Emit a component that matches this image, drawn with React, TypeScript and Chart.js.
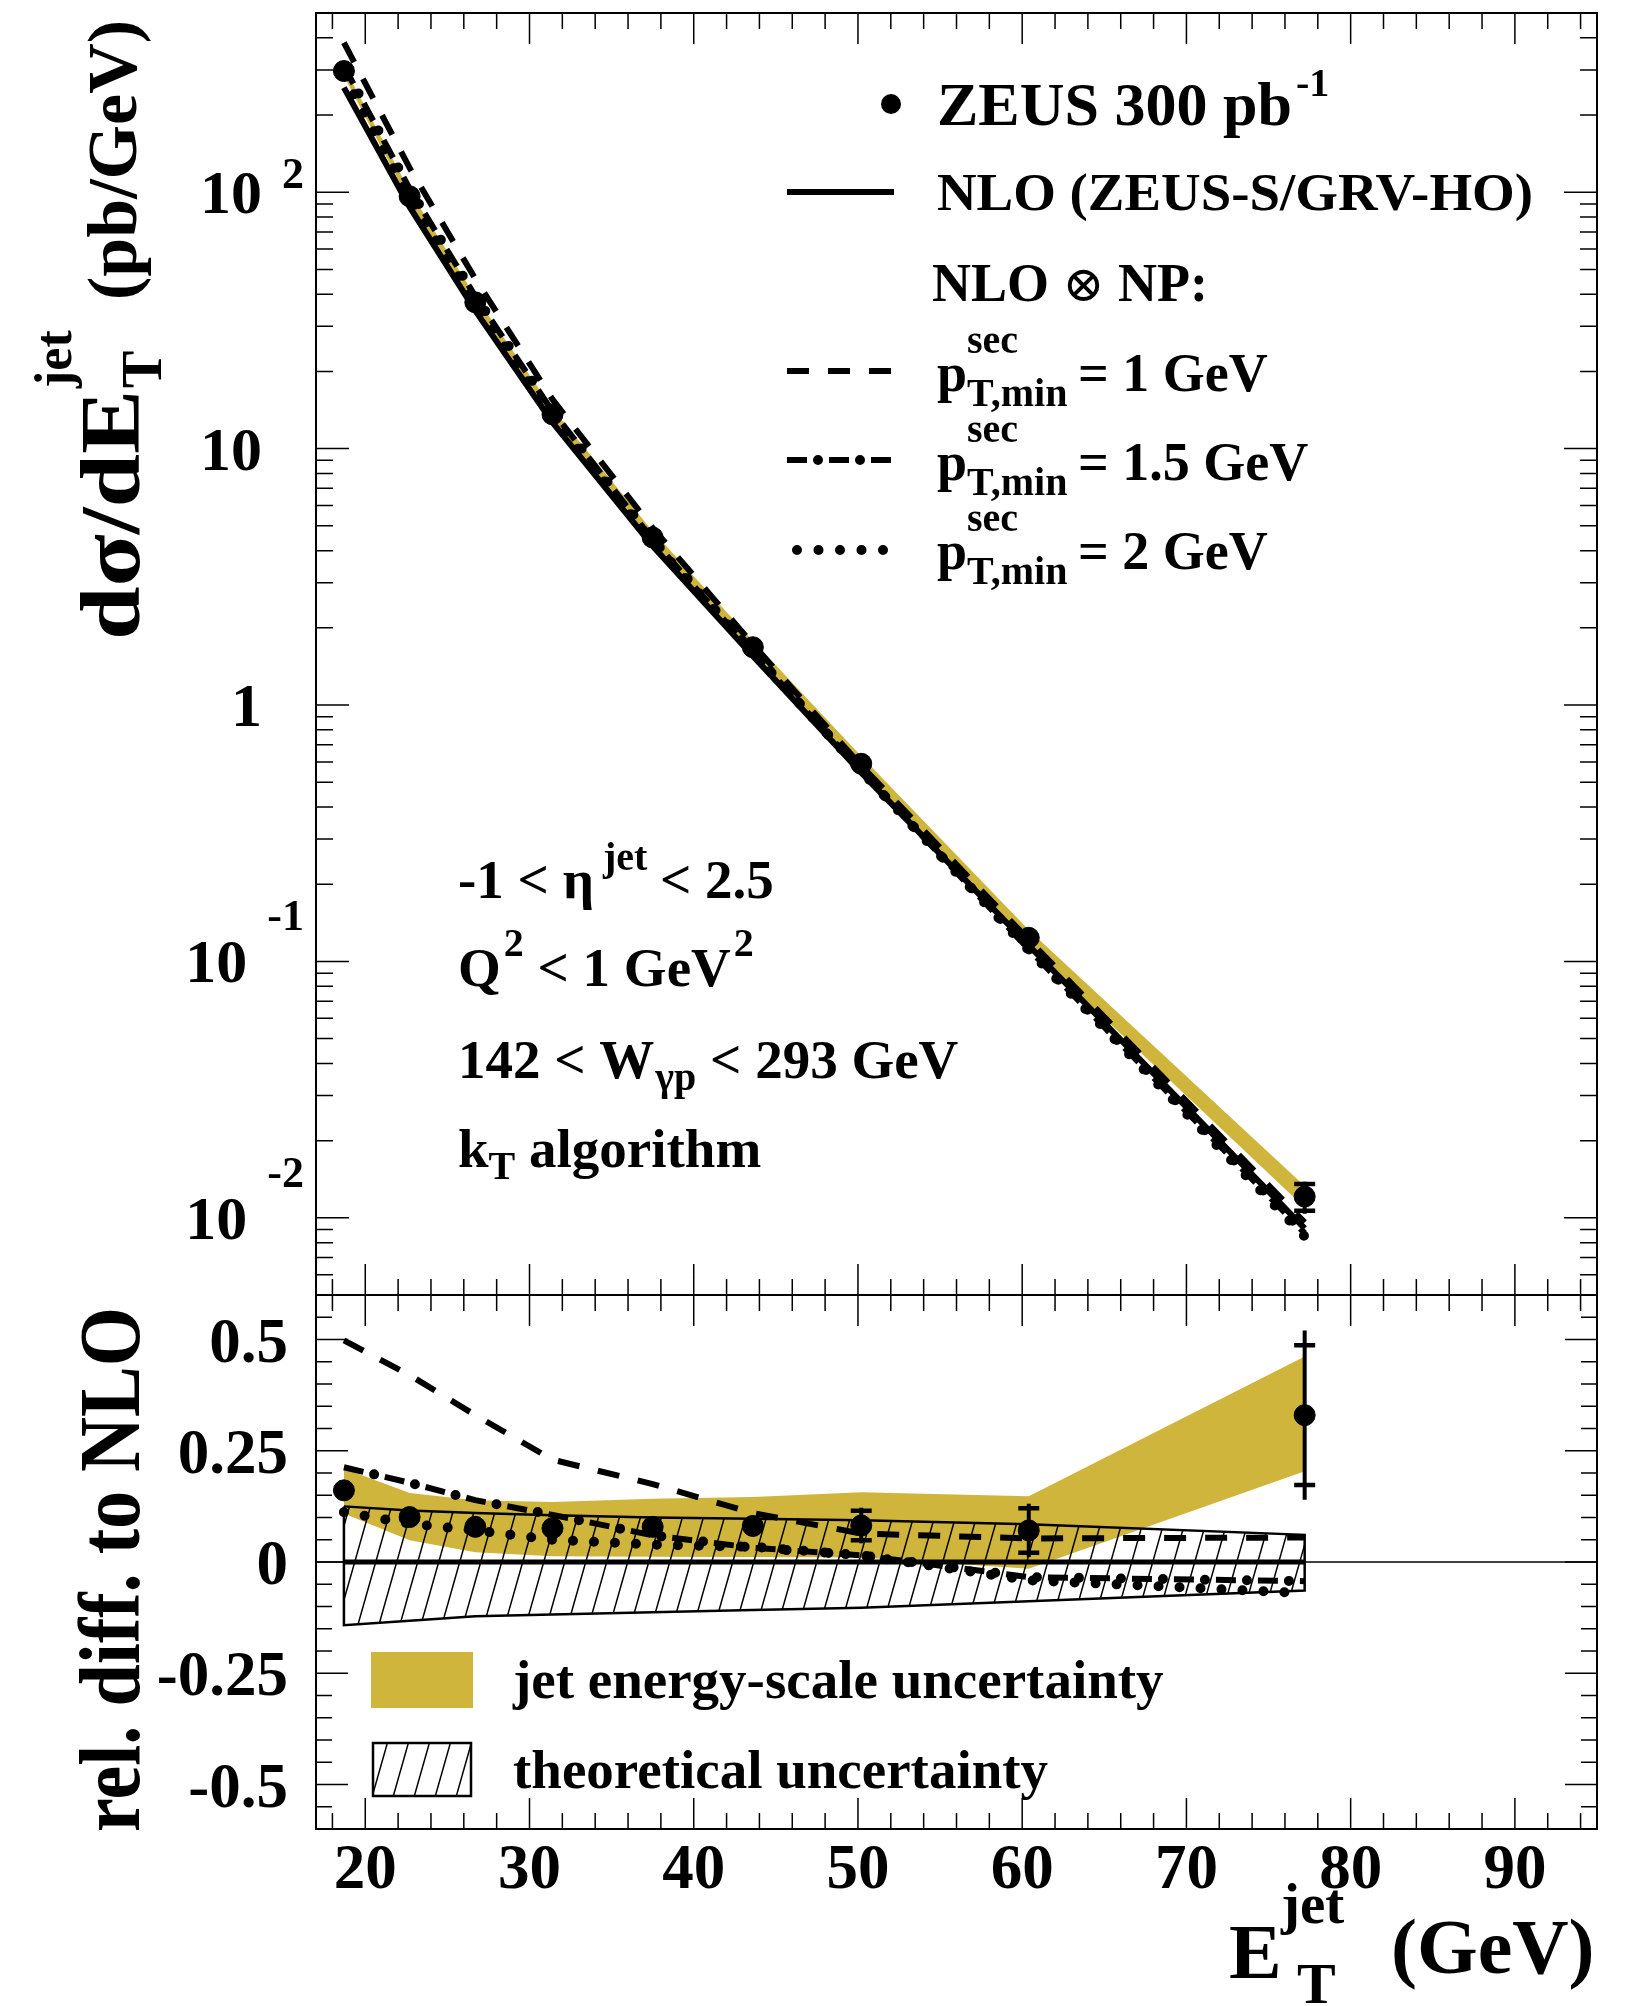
import React, { useEffect, useRef } from 'react';
import { Chart, registerables } from 'chart.js';

Chart.register(...registerables);

const SERIF = "'Liberation Serif', 'Times New Roman', 'DejaVu Serif', serif";
const GOLD = '#cfb53b';

// ---------------- data ----------------
const etJet = [18.7, 22.7, 26.7, 31.4, 37.5, 43.6, 50.2, 60.4, 77.2];

// upper panel: d sigma / dE_T (pb/GeV)
const zeusXsec = [297, 96.4, 37.2, 13.6, 4.5, 1.68, 0.59, 0.1236, 0.0121];
const zeusXsecStat = [1.0, 0.4, 0.2, 0.1, 0.04, 0.023, 0.018, 0.0058, 0.00145];
const zeusXsecTot = [3.5, 1.2, 0.5, 0.19, 0.07, 0.034, 0.022, 0.0069, 0.00173];
const nloXsec = [255.8, 87.6, 34.5, 12.64, 4.17, 1.554, 0.545, 0.1154, 0.0091];
const np1Xsec = [383.2, 124.4, 45.9, 15.55, 4.9, 1.725, 0.58, 0.1215, 0.0096];
const np15Xsec = [310.3, 103.2, 39.3, 13.98, 4.42, 1.604, 0.553, 0.1115, 0.00871];
const np2Xsec = [284.4, 95.1, 36.95, 13.27, 4.33, 1.607, 0.553, 0.1107, 0.00846];
const jesUpXsec = [309.5, 101.2, 39.3, 14.35, 4.76, 1.781, 0.6306, 0.1325, 0.0133];
const jesDownXsec = [283.7, 91.9, 35.26, 12.8, 4.22, 1.571, 0.5505, 0.1137, 0.01096];

// lower panel: relative difference to NLO
const zeusRel = [0.161, 0.101, 0.079, 0.076, 0.079, 0.081, 0.082, 0.071, 0.33];
const zeusRelStat = [0.004, 0.005, 0.006, 0.008, 0.01, 0.015, 0.033, 0.05, 0.157];
const zeusRelTot = [0.012, 0.012, 0.013, 0.014, 0.016, 0.02, 0.04, 0.06, 0.19];
const nloRel = [0, 0, 0, 0, 0, 0, 0, 0, 0];
const np1Rel = [0.498, 0.42, 0.33, 0.23, 0.175, 0.11, 0.064, 0.053, 0.055];
const np15Rel = [0.213, 0.178, 0.139, 0.106, 0.06, 0.032, 0.015, -0.034, -0.043];
const np2Rel = [0.112, 0.086, 0.071, 0.05, 0.039, 0.034, 0.015, -0.041, -0.07];
const jesUpRel = [0.21, 0.155, 0.139, 0.135, 0.142, 0.146, 0.157, 0.148, 0.462];
const jesDownRel = [0.109, 0.049, 0.022, 0.013, 0.012, 0.011, 0.01, -0.015, 0.204];
const theoUpRel = [0.125, 0.116, 0.11, 0.105, 0.1, 0.097, 0.094, 0.085, 0.061];
const theoDownRel = [-0.142, -0.132, -0.122, -0.118, -0.113, -0.108, -0.103, -0.088, -0.064];

// axes
const xRange = [17, 95];
const xsecRange = [0.005, 500];
const relRange = [-0.6, 0.6];
const xTickValues = [20, 30, 40, 50, 60, 70, 80, 90];
const xTickLabels = ['20', '30', '40', '50', '60', '70', '80', '90'];
const xsecTickValues = [100, 10, 1, 0.1, 0.01];
const xsecTickBases = ['10', '10', '1', '10', '10'];
const xsecTickExps = ['2', '', '', '-1', '-2'];
const relTickValues = [0.5, 0.25, 0, -0.25, -0.5];
const relTickLabels = ['0.5', '0.25', '0', '-0.25', '-0.5'];

// ---------------- layout ----------------
const W = 1640;
const H = 2006;
const F = { left: 316, right: 1597, top: 13, mid: 1295, bottom: 1829 };

type Pt = { x: number; y: number };
const pts = (xs: number[], ys: number[]): Pt[] => xs.map((x, i) => ({ x, y: ys[i] }));

type Seg = {
  t: string;
  size: number;
  dy?: number;
  dx?: number;
  at?: number;
  w?: number;
  stack?: boolean;
  weight?: string;
};

function rich(ctx: CanvasRenderingContext2D, segs: Seg[], x: number, y: number, rot = 0) {
  ctx.save();
  ctx.translate(x, y);
  if (rot) ctx.rotate(rot);
  ctx.textAlign = 'left';
  ctx.textBaseline = 'alphabetic';
  ctx.fillStyle = '#000';
  let cursor = 0;
  let prevStart = 0;
  for (const s of segs) {
    ctx.font = `${s.weight ?? 'bold'} ${s.size}px ${SERIF}`;
    const nat = ctx.measureText(s.t).width;
    const sx = s.w ? s.w / nat : 1;
    const start = s.at !== undefined ? s.at : s.stack ? prevStart : cursor + (s.dx ?? 0);
    ctx.save();
    ctx.translate(start, s.dy ?? 0);
    ctx.scale(sx, 1);
    ctx.fillText(s.t, 0, 0);
    ctx.restore();
    prevStart = start;
    cursor = Math.max(cursor, start + nat * sx);
  }
  ctx.restore();
}

function line(xs: number[], ys: number[], extra: Record<string, unknown>) {
  return {
    data: pts(xs, ys),
    showLine: true,
    pointRadius: 0,
    borderColor: '#000',
    backgroundColor: 'rgba(0,0,0,0)',
    fill: false,
    ...extra,
  };
}

function bandEdge(xs: number[], ys: number[], extra: Record<string, unknown>) {
  return line(xs, ys, { borderColor: 'rgba(0,0,0,0)', borderWidth: 1, ...extra });
}

function markers(xs: number[], ys: number[]) {
  return {
    data: pts(xs, ys),
    showLine: false,
    pointRadius: 10.5,
    pointBackgroundColor: '#000',
    pointBorderColor: '#000',
    pointBorderWidth: 1,
    order: 0,
  };
}

function drawErrors(chart: any, vals: number[], stat: number[], tot: number[]) {
  const { ctx } = chart;
  const xs = chart.scales.x;
  const ys = chart.scales.y;
  ctx.save();
  ctx.strokeStyle = '#000';
  for (let i = 0; i < etJet.length; i++) {
    const px = xs.getPixelForValue(etJet[i]);
    const pc = ys.getPixelForValue(vals[i]);
    const pTotHi = ys.getPixelForValue(vals[i] + tot[i]);
    const pTotLo = ys.getPixelForValue(vals[i] - tot[i]);
    const pStHi = ys.getPixelForValue(vals[i] + stat[i]);
    const pStLo = ys.getPixelForValue(vals[i] - stat[i]);
    if (Math.abs(pc - pTotHi) > 10.5 || Math.abs(pTotLo - pc) > 10.5) {
      ctx.lineWidth = 4;
      ctx.beginPath();
      ctx.moveTo(px, pTotHi);
      ctx.lineTo(px, pTotLo);
      ctx.stroke();
    }
    if (Math.abs(pc - pStHi) > 10.5) {
      ctx.lineWidth = 4.5;
      ctx.beginPath();
      ctx.moveTo(px - 10.5, pStHi);
      ctx.lineTo(px + 10.5, pStHi);
      ctx.moveTo(px - 10.5, pStLo);
      ctx.lineTo(px + 10.5, pStLo);
      ctx.stroke();
    }
  }
  ctx.restore();
}

function drawXTicks(ctx: CanvasRenderingContext2D, xs: any, top: number, bottom: number) {
  for (let v = 18; v <= 94; v += 2) {
    const px = xs.getPixelForValue(v);
    const len = v % 10 === 0 ? 31 : 16;
    ctx.moveTo(px, top);
    ctx.lineTo(px, top + len);
    ctx.moveTo(px, bottom);
    ctx.lineTo(px, bottom - len);
  }
}

function makeHatch(ctx: CanvasRenderingContext2D): CanvasPattern | string {
  const tw = 21;
  const th = 74;
  const tile = document.createElement('canvas');
  tile.width = tw;
  tile.height = th;
  const t = tile.getContext('2d');
  if (!t) return 'rgba(0,0,0,0.15)';
  t.strokeStyle = '#000';
  t.lineWidth = 1.5;
  t.beginPath();
  for (const off of [-tw, 0, tw]) {
    t.moveTo(off, th);
    t.lineTo(off + tw, 0);
  }
  t.stroke();
  return ctx.createPattern(tile, 'repeat') || 'rgba(0,0,0,0.15)';
}

const baseOptions = (padding: any, yScale: any) => ({
  responsive: false,
  animation: false as const,
  devicePixelRatio: 1,
  events: [] as any[],
  layout: { padding },
  plugins: { legend: { display: false }, tooltip: { enabled: false } },
  scales: {
    x: { type: 'linear' as const, min: xRange[0], max: xRange[1], display: false },
    y: yScale,
  },
});

// ---------------- top panel ----------------
function topConfig(): any {
  const decor = {
    id: 'topDecor',
    afterDatasetsDraw(chart: any) {
      drawErrors(chart, zeusXsec, zeusXsecStat, zeusXsecTot);
    },
    afterDraw(chart: any) {
      const { ctx, chartArea: a } = chart;
      const xs = chart.scales.x;
      const ys = chart.scales.y;
      ctx.save();
      ctx.strokeStyle = '#000';
      ctx.lineWidth = 1.5;
      ctx.beginPath();
      drawXTicks(ctx, xs, a.top, a.bottom);
      for (let e = -3; e <= 2; e++) {
        for (let m = 1; m <= 9; m++) {
          const v = m * Math.pow(10, e);
          if (v < xsecRange[0] * 0.999 || v > xsecRange[1] * 1.001) continue;
          const py = ys.getPixelForValue(v);
          const len = m === 1 ? 33 : 17;
          ctx.moveTo(a.left, py);
          ctx.lineTo(a.left + len, py);
          ctx.moveTo(a.right, py);
          ctx.lineTo(a.right - len, py);
        }
      }
      ctx.stroke();
      ctx.lineWidth = 2;
      ctx.strokeRect(a.left, a.top, a.right - a.left, a.bottom - a.top);

      // y tick labels
      ctx.fillStyle = '#000';
      ctx.textBaseline = 'alphabetic';
      for (let i = 0; i < xsecTickValues.length; i++) {
        const py = ys.getPixelForValue(xsecTickValues[i]);
        const exp = xsecTickExps[i];
        if (exp) {
          ctx.font = `bold 44px ${SERIF}`;
          const ew = ctx.measureText(exp).width;
          ctx.textAlign = 'left';
          ctx.fillText(exp, 304 - ew, py + (exp.startsWith('-') ? -31 : -4));
          ctx.font = `bold 62px ${SERIF}`;
          ctx.textAlign = 'right';
          ctx.fillText(xsecTickBases[i], 304 - ew - 20, py + 21);
        } else {
          ctx.font = `bold 62px ${SERIF}`;
          ctx.textAlign = 'right';
          ctx.fillText(xsecTickBases[i], 262, py + 21);
        }
      }

      // y title
      rich(
        ctx,
        [
          { t: 'dσ/dE', size: 84, w: 250 },
          { t: 'T', size: 56, dy: 22, dx: 2 },
          { t: 'jet', size: 52, dy: -68, stack: true },
          { t: '(pb/GeV)', size: 70, at: 340, dy: -3 },
        ],
        139,
        640,
        -Math.PI / 2
      );

      // legend
      ctx.beginPath();
      ctx.arc(891, 104, 10, 0, Math.PI * 2);
      ctx.fill();
      rich(ctx, [{ t: 'ZEUS 300 pb', size: 62 }, { t: '-1', size: 40, dy: -29, dx: 4 }], 937, 125);
      const sample = (y: number, x0: number, x1: number, w: number, dash: number[], cap: CanvasLineCap, off = 0) => {
        ctx.save();
        ctx.lineWidth = w;
        ctx.setLineDash(dash);
        ctx.lineDashOffset = off;
        ctx.lineCap = cap;
        ctx.beginPath();
        ctx.moveTo(x0, y);
        ctx.lineTo(x1, y);
        ctx.stroke();
        ctx.restore();
      };
      sample(192, 787, 894, 6, [], 'butt');
      rich(ctx, [{ t: 'NLO (ZEUS-S/GRV-HO)', size: 53, w: 596 }], 937, 210);
      rich(
        ctx,
        [
          { t: 'NLO ', size: 54 },
          { t: '⊗', size: 50, weight: 'normal' },
          { t: ' NP:', size: 54 },
        ],
        932,
        301
      );
      sample(371, 787, 894, 6, [22, 19], 'butt');
      sample(460, 787, 894, 6, [20, 22], 'butt');
      sample(460, 787, 894, 10, [0, 42], 'round', 11);
      sample(550, 797, 884, 10, [0, 21.5], 'round');
      const rows = ['= 1 GeV', '= 1.5 GeV', '= 2 GeV'];
      rows.forEach((r, i) => {
        rich(
          ctx,
          [
            { t: 'p', size: 54 },
            { t: 'T,min', size: 40, dy: 15 },
            { t: 'sec', size: 40, dy: -38, stack: true },
            { t: r, size: 54, at: 141 },
          ],
          937,
          391 + 89 * i
        );
      });

      // kinematic text
      rich(ctx, [{ t: '-1 < η', size: 55 }, { t: 'jet', size: 40, dy: -28, at: 145 }, { t: '< 2.5', size: 55, at: 202 }], 458, 898);
      rich(ctx, [{ t: 'Q', size: 55 }, { t: '2', size: 40, dy: -30, dx: 3 }, { t: ' < 1 GeV', size: 55 }, { t: '2', size: 40, dy: -30, dx: 3 }], 458, 986);
      rich(ctx, [{ t: '142 < W', size: 55 }, { t: 'γp', size: 40, dy: 12, dx: 1 }, { t: ' < 293 GeV', size: 55 }], 458, 1078);
      rich(ctx, [{ t: 'k', size: 55 }, { t: 'T', size: 40, dy: 12 }, { t: ' algorithm', size: 55 }], 458, 1167);
      ctx.restore();
    },
  };

  return {
    type: 'scatter',
    data: {
      datasets: [
        { ...bandEdge(etJet, jesDownXsec, {}), order: 20 },
        { ...bandEdge(etJet, jesUpXsec, { fill: '-1', backgroundColor: GOLD }), order: 19 },
        line(etJet, nloXsec, { borderWidth: 6, order: 5 }),
        line(etJet, np1Xsec, { borderWidth: 6, borderDash: [22, 19], order: 4 }),
        line(etJet, np15Xsec, { borderWidth: 6, borderDash: [20, 22], order: 3 }),
        line(etJet, np15Xsec, { borderWidth: 10, borderDash: [0, 42], borderDashOffset: 11, borderCapStyle: 'round', order: 3 }),
        line(etJet, np2Xsec, { borderWidth: 10, borderDash: [0, 21], borderCapStyle: 'round', order: 2 }),
        markers(etJet, zeusXsec),
      ],
    },
    options: baseOptions(
      { left: F.left, right: W - F.right, top: F.top, bottom: H - F.mid },
      { type: 'logarithmic', min: xsecRange[0], max: xsecRange[1], display: false }
    ),
    plugins: [decor],
  };
}

// ---------------- bottom panel ----------------
function bottomConfig(hatch: CanvasPattern | string): any {
  const outlineX = [...etJet, ...etJet.slice().reverse(), etJet[0]];
  const outlineY = [...theoUpRel, ...theoDownRel.slice().reverse(), theoUpRel[0]];

  const decor = {
    id: 'botDecor',
    afterDatasetsDraw(chart: any) {
      const { ctx, chartArea: a } = chart;
      const y0 = chart.scales.y.getPixelForValue(0);
      ctx.save();
      ctx.strokeStyle = '#000';
      ctx.lineWidth = 1.6;
      ctx.beginPath();
      ctx.moveTo(a.left, y0);
      ctx.lineTo(a.right, y0);
      ctx.stroke();
      ctx.restore();
      drawErrors(chart, zeusRel, zeusRelStat, zeusRelTot);
    },
    afterDraw(chart: any) {
      const { ctx, chartArea: a } = chart;
      const xs = chart.scales.x;
      const ys = chart.scales.y;
      ctx.save();
      ctx.strokeStyle = '#000';
      ctx.lineWidth = 1.5;
      ctx.beginPath();
      drawXTicks(ctx, xs, a.top, a.bottom);
      for (let k = -12; k <= 12; k++) {
        const py = ys.getPixelForValue(k * 0.05);
        const len = k % 5 === 0 ? 32 : 16;
        ctx.moveTo(a.left, py);
        ctx.lineTo(a.left + len, py);
        ctx.moveTo(a.right, py);
        ctx.lineTo(a.right - len, py);
      }
      ctx.stroke();
      ctx.lineWidth = 2;
      ctx.strokeRect(a.left, a.top, a.right - a.left, a.bottom - a.top);

      ctx.fillStyle = '#000';
      ctx.textBaseline = 'alphabetic';
      ctx.font = `bold 63px ${SERIF}`;
      ctx.textAlign = 'center';
      xTickValues.forEach((v, i) => ctx.fillText(xTickLabels[i], xs.getPixelForValue(v), 1888));
      ctx.textAlign = 'right';
      relTickValues.forEach((v, i) => ctx.fillText(relTickLabels[i], 288, ys.getPixelForValue(v) + 22));

      // titles
      rich(ctx, [{ t: 'rel. diff. to NLO', size: 86, w: 525 }], 139, 1832, -Math.PI / 2);
      rich(ctx, [{ t: 'E', size: 79 }], 1229, 1978);
      rich(ctx, [{ t: 'T', size: 58 }], 1297, 2003);
      rich(ctx, [{ t: 'jet', size: 57 }], 1281, 1923);
      rich(ctx, [{ t: '(GeV)', size: 78 }], 1391, 1973);

      // legend
      ctx.fillStyle = GOLD;
      ctx.fillRect(371, 1652, 102, 56);
      ctx.fillStyle = hatch as any;
      ctx.fillRect(373, 1743, 98, 53);
      ctx.strokeStyle = '#000';
      ctx.lineWidth = 2.5;
      ctx.strokeRect(373, 1743, 98, 53);
      rich(ctx, [{ t: 'jet energy-scale uncertainty', size: 55 }], 513, 1698);
      rich(ctx, [{ t: 'theoretical uncertainty', size: 55 }], 513, 1788);
      ctx.restore();
    },
  };

  return {
    type: 'scatter',
    data: {
      datasets: [
        { ...bandEdge(etJet, jesDownRel, {}), order: 20 },
        { ...bandEdge(etJet, jesUpRel, { fill: '-1', backgroundColor: GOLD }), order: 19 },
        { ...bandEdge(etJet, theoDownRel, {}), order: 18 },
        { ...bandEdge(etJet, theoUpRel, { fill: '-1', backgroundColor: hatch }), order: 17 },
        line(outlineX, outlineY, { borderWidth: 2.5, order: 16 }),
        line(etJet, nloRel, { borderWidth: 5, order: 6 }),
        line(etJet, np1Rel, { borderWidth: 6, borderDash: [22, 19], order: 5 }),
        line(etJet, np15Rel, { borderWidth: 6, borderDash: [20, 22], order: 4 }),
        line(etJet, np15Rel, { borderWidth: 10, borderDash: [0, 42], borderDashOffset: 11, borderCapStyle: 'round', order: 4 }),
        line(etJet, np2Rel, { borderWidth: 10, borderDash: [0, 21], borderCapStyle: 'round', order: 3 }),
        markers(etJet, zeusRel),
      ],
    },
    options: baseOptions(
      { left: F.left, right: W - F.right, top: F.mid, bottom: H - F.bottom },
      { type: 'linear', min: relRange[0], max: relRange[1], display: false }
    ),
    plugins: [decor],
  };
}

export default function App() {
  const topRef = useRef<HTMLCanvasElement>(null);
  const botRef = useRef<HTMLCanvasElement>(null);

  useEffect(() => {
    if (!topRef.current || !botRef.current) return;
    const c1 = new Chart(topRef.current, topConfig());
    const bctx = botRef.current.getContext('2d');
    const hatch = bctx ? makeHatch(bctx) : 'rgba(0,0,0,0.15)';
    const c2 = new Chart(botRef.current, bottomConfig(hatch));
    return () => {
      c1.destroy();
      c2.destroy();
    };
  }, []);

  const cs: React.CSSProperties = { position: 'absolute', left: 0, top: 0, width: W, height: H };
  return (
    <div style={{ position: 'absolute', left: 0, top: 0, width: W, height: H, background: '#fff', overflow: 'hidden' }}>
      <canvas ref={topRef} width={W} height={H} style={cs} />
      <canvas ref={botRef} width={W} height={H} style={cs} />
    </div>
  );
}
